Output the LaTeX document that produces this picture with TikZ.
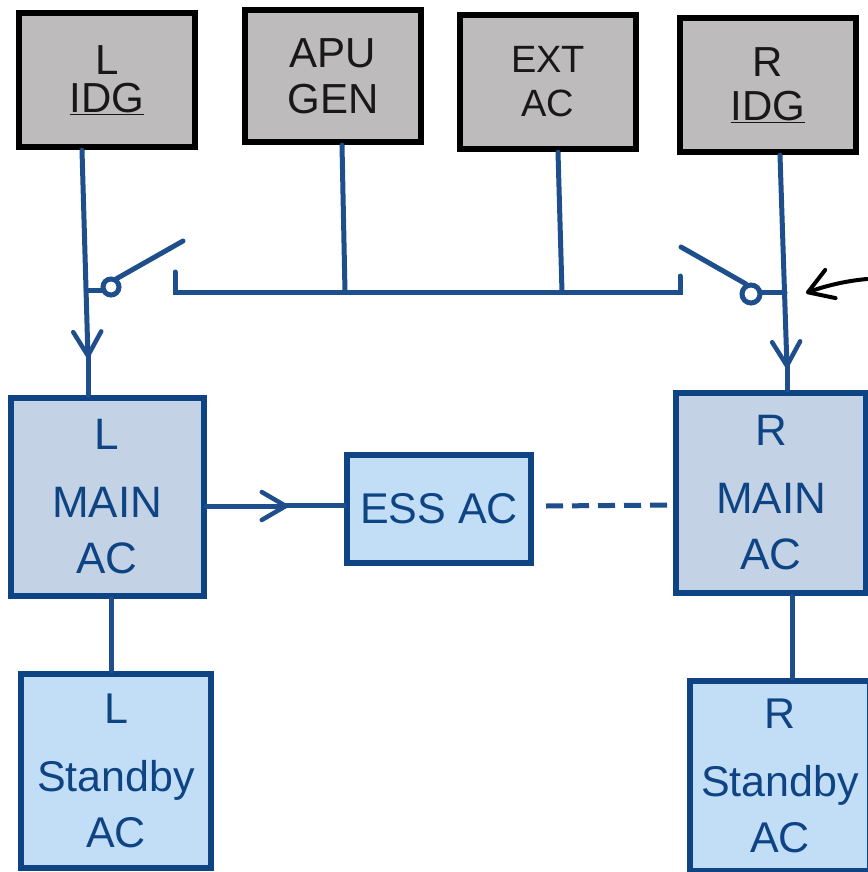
\documentclass[tikz,border=0pt]{standalone}
\usepackage{fontspec}
\setmainfont{Liberation Sans}
\usepackage{color}
\usetikzlibrary{calc}
\usetikzlibrary{arrows.meta}
\definecolor{busblue}{HTML}{1F4E8C}
\definecolor{boxblue}{HTML}{0F4484}
\definecolor{mainfill}{HTML}{C3D3E5}
\definecolor{subfill}{HTML}{C2DEF6}
\definecolor{genfill}{HTML}{BDBBBB}
\definecolor{genink}{HTML}{181818}
\tikzset{
	genbox/.style={draw=black,fill=genfill,line width=6.5pt,minimum width=176pt,minimum height=134pt,inner sep=0pt,align=center,text=genink,font=\fontsize{42}{46}\selectfont},
	mainbox/.style={draw=boxblue,fill=mainfill,line width=6pt,inner sep=0pt,align=center,text=boxblue,font=\fontsize{44}{62}\selectfont},
	subbox/.style={draw=boxblue,fill=subfill,line width=6pt,inner sep=0pt,align=center,text=boxblue,font=\fontsize{43}{60}\selectfont},
	busline/.style={draw=busblue,line width=5pt,line cap=round},
	headline/.style={busline,-{Straight Barb[length=24pt,width=28pt,line width=4.5pt,round]}},
}
\begin{document}
\begin{tikzpicture}[x=1pt,y=-1pt]
	\useasboundingbox (0,0) rectangle (867,872);
	% sources
	\node[genbox] (lidg) at (107,80) {L\\[-8pt]\underline{IDG}};
	\node[genbox,minimum height=132pt] (apu) at (333,76) {APU\\GEN};
	\node[genbox,font=\fontsize{38}{44}\selectfont] (ext) at (548,82) {EXT\\AC};
	\node[genbox] (ridg) at (768,85) {R\\[-2pt]\underline{IDG}};
	% buses
	\node[mainbox,minimum width=193pt,minimum height=198pt] (lmain) at (107,497) {L\\[6pt]MAIN\\[-6pt]AC};
	\node[mainbox,minimum width=190pt,minimum height=200pt] (rmain) at (771,493) {R\\[6pt]MAIN\\[-6pt]AC};
	\node[subbox,minimum width=184pt,minimum height=108pt] (ess) at (439,509) {ESS AC};
	\node[subbox,minimum width=190pt,minimum height=194pt] (lstby) at (116,771) {L\\[8pt]Standby\\[-4pt]AC};
	\node[subbox,minimum width=180pt,minimum height=190pt] (rstby) at (780,776) {R\\[8pt]Standby\\[-4pt]AC};
	% tie bus
	\coordinate (tiel) at (175,292);
	\coordinate (tier) at (680,292);
	\coordinate (lcon) at (86,290);
	\coordinate (rcon) at (785,292);
	\draw[busline] ($(tiel)+(0,-20)$) -- (tiel) -- (tier) -- ($(tier)+(0,-16)$);
	\draw[busline] (apu.south -| 342,0) -- (345,292);
	\draw[busline] (ext.south -| 558,0) -- (562,292);
	% left switch
	\draw[headline] (lidg.south -| 82,0) -- (88,358);
	\draw[busline] (88,354) -- (lmain.north -| 88,0);
	\draw[busline] (lcon) -- (104,290);
	\draw[busline] (111,287) circle (8pt);
	\draw[busline] (116,279) -- (183,241);
	% right switch
	\draw[headline] (ridg.south -| 780,0) -- (787,368);
	\draw[busline] (787,364) -- (rmain.north -| 787,0);
	\draw[busline] (rcon) -- (762,292);
	\draw[busline] (751,294) circle (9pt);
	\draw[busline] (746,284) -- (681,247);
	% annotation arrow
	\coordinate (pointer) at (806,293);
	\draw[black,line width=4pt,line cap=round,-{Straight Barb[length=24pt,width=30pt,line width=4pt,round]}] (867,279) .. controls (845,281) and (825,286) .. (pointer);
	% links between buses
	\draw[headline] (lmain.east |- 0,506) -- (288,506);
	\draw[busline] (284,505) -- (ess.west |- 0,505);
	\draw[busline,line cap=butt,dash pattern=on 17pt off 9pt] (546,506) -- (rmain.west |- 0,505);
	\draw[busline] (lmain.south -| 111,0) -- (lstby.north -| 111,0);
	\draw[busline] (rmain.south -| 792,0) -- (rstby.north -| 792,0);
\end{tikzpicture}
\end{document}
